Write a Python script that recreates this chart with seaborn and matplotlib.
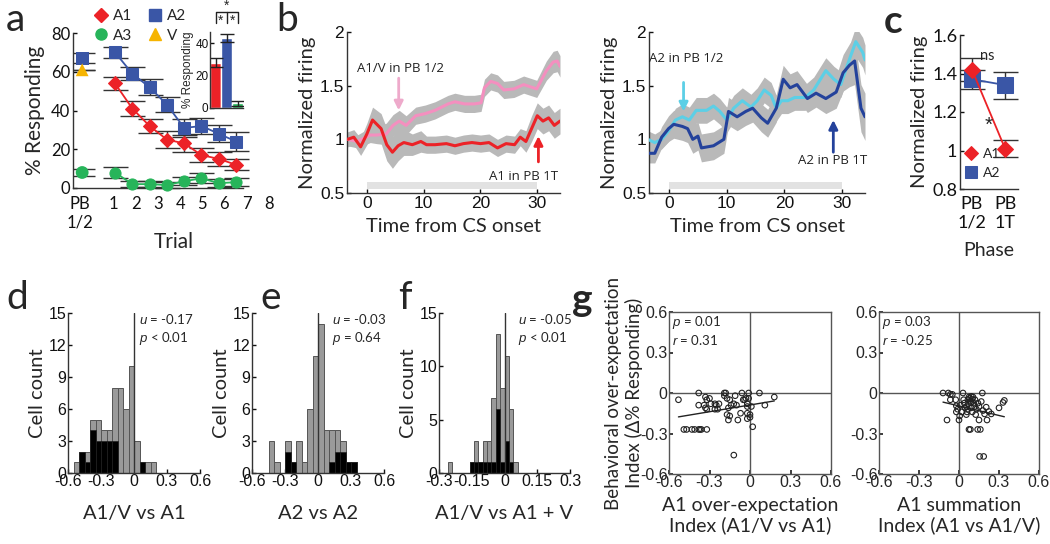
import numpy as np
import pandas as pd
import seaborn as sns
import matplotlib.pyplot as plt
from matplotlib.lines import Line2D

# ---------------- data ----------------
# panel a: % responding per trial
trials = [1, 2, 3, 4, 5, 6, 7, 8]
a1_resp = [54, 41, 32, 25, 23, 17, 15, 12]
a1_err = [3.4, 3.8, 3.4, 4.5, 4.5, 3.5, 3.8, 2.8]
a2_resp = [70, 59, 52, 43, 31, 32, 28, 24]
a2_err = [3.0, 3.4, 4.2, 3.8, 4.5, 4.0, 4.3, 5.0]
a3_resp = [8, 2, 2, 1.5, 3.5, 5, 2.5, 3]
a3_err = [3.0, 1.5, 1.5, 1.5, 2.0, 2.5, 2.0, 2.0]
pb_cues = ['A2', 'V', 'A3']
pb_resp = [67, 61, 8]
pb_err = [2.5, 0.0, 2.0]
trial_labels = ['PB\n1/2', '1', '2', '3', '4', '5', '6', '7', '8']

# panel a inset
inset_cues = ['A1', 'A2', 'A3']
inset_resp = [28, 43, 3]
inset_err = [2.5, 2.5, 1.5]

# panel b: normalized firing traces
pink_t = [-3.4, -1.7, 0.6, 1.7, 3.4, 4.6, 5.7, 6.9, 8.6, 10.3, 12, 14.3, 15.5, 17.2, 18.9,
          20.1, 20.7, 21.8, 23, 24.1, 25.9, 27.6, 29.9, 31.6, 32.8, 33.5, 34]
pink_v = [1.0, 0.98, 1.04, 1.04, 1.05, 1.13, 1.17, 1.13, 1.22, 1.24, 1.27, 1.33, 1.35, 1.33, 1.33,
          1.34, 1.48, 1.54, 1.52, 1.46, 1.47, 1.51, 1.47, 1.64, 1.72, 1.73, 1.68]
pink_sem = [0.06, 0.06, 0.07, 0.08, 0.1, 0.1, 0.1, 0.09, 0.08, 0.08, 0.08, 0.08, 0.08, 0.08, 0.08,
            0.08, 0.08, 0.08, 0.08, 0.08, 0.08, 0.08, 0.08, 0.09, 0.1, 0.1, 0.1]
red_t = [-3.4, -2.3, -1.1, 0, 1, 2.5, 3.5, 4.5, 5.5, 6.5, 8, 9.5, 10.5, 12, 14, 15.5, 17, 18.5,
         20, 21.5, 23, 24.5, 26, 27, 28, 29, 30, 31, 32, 33, 34]
red_v = [1.0, 1.02, 0.93, 1.05, 1.18, 1.1, 0.95, 0.88, 0.94, 0.97, 0.95, 0.98, 0.95, 0.95, 0.96,
         0.94, 0.96, 0.97, 0.96, 0.97, 0.92, 0.96, 0.95, 1.02, 0.98, 1.1, 1.22, 1.17, 1.2, 1.13, 1.17]
red_sem = [0.07, 0.07, 0.08, 0.1, 0.12, 0.14, 0.15, 0.15, 0.14, 0.12, 0.1, 0.1, 0.08, 0.08, 0.08,
           0.08, 0.08, 0.08, 0.08, 0.08, 0.08, 0.08, 0.08, 0.08, 0.1, 0.12, 0.12, 0.12, 0.12, 0.12, 0.12]
cyan_t = [-3.7, -2.5, -1.3, -0.1, 1.1, 2.3, 3.5, 4.7, 6.5, 7.7, 8.8, 10, 11.2, 12.7, 14.2, 15.3,
          16.5, 17.7, 18.6, 19.5, 20.6, 21.8, 23.6, 25.1, 27.2, 28.6, 29.8, 31, 32.4, 33.6, 34]
cyan_v = [1.0, 0.97, 1.0, 1.08, 1.18, 1.21, 1.18, 1.27, 1.27, 1.31, 1.26, 1.18, 1.29, 1.36, 1.30, 1.36,
          1.46, 1.41, 1.29, 1.36, 1.36, 1.39, 1.39, 1.46, 1.64, 1.56, 1.51, 1.7, 1.91, 1.81, 1.74]
cyan_sem = [0.08, 0.08, 0.09, 0.1, 0.11, 0.12, 0.12, 0.12, 0.12, 0.12, 0.12, 0.12, 0.12, 0.12, 0.12, 0.12,
            0.12, 0.12, 0.12, 0.12, 0.12, 0.12, 0.12, 0.12, 0.12, 0.12, 0.12, 0.13, 0.14, 0.14, 0.14]
navy_t = [-3.7, -2.5, -1.3, -0.1, 0.8, 2.3, 3.2, 4.1, 5, 5.6, 7.7, 9.5, 10.3, 11.8, 13.3, 14.5,
          16, 17.1, 18.6, 19.8, 21, 22.2, 24, 25.5, 27.2, 29, 30.2, 31.3, 32.2, 33.3, 34]
navy_v = [0.87, 0.87, 1.02, 1.1, 1.14, 1.12, 1.1, 1.0, 1.03, 0.92, 0.94, 1.0, 1.26, 1.21, 1.26, 1.29,
          1.2, 1.15, 1.29, 1.56, 1.48, 1.51, 1.38, 1.43, 1.38, 1.44, 1.62, 1.69, 1.73, 1.29, 1.21]
navy_sem = [0.09, 0.09, 0.1, 0.12, 0.13, 0.13, 0.13, 0.13, 0.13, 0.13, 0.13, 0.13, 0.13, 0.13, 0.13, 0.13,
            0.13, 0.13, 0.13, 0.13, 0.13, 0.13, 0.13, 0.13, 0.14, 0.15, 0.17, 0.2, 0.22, 0.22, 0.22]
cs_period = [0, 30]

# panel c
phase_labels = ['PB\n1/2', 'PB\n1T']
c_a1 = [1.42, 1.01]
c_a1_err = [0.06, 0.045]
c_a2 = [1.37, 1.34]
c_a2_err = [0.05, 0.07]

# panels d-f: histograms (bin centres, total counts, significant-cell counts)
d_centers = [-0.525, -0.475, -0.425, -0.375, -0.325, -0.275, -0.225, -0.175, -0.125, -0.075,
             -0.025, 0.025, 0.075, 0.125, 0.175]
d_total = [1, 2, 2, 5, 5, 4, 4, 8, 8, 6, 10, 3, 1, 1, 1]
d_black = [0, 2, 1, 4, 3, 3, 3, 3, 0, 0, 0, 0, 1, 0, 0]
e_centers = [-0.425, -0.375, -0.325, -0.275, -0.225, -0.175, -0.125, -0.075, -0.025, 0.025,
             0.075, 0.125, 0.175, 0.225, 0.275, 0.325]
e_total = [3, 1, 0, 3, 1, 3, 1, 6, 11, 14, 4, 4, 4, 3, 1, 1]
e_black = [0, 0, 0, 2, 1, 0, 0, 0, 0, 0, 0, 1, 2, 2, 1, 1]
f_centers = [-0.25, -0.15, -0.13, -0.11, -0.09, -0.07, -0.05, -0.03, -0.01, 0.01, 0.03, 0.05]
f_total = [1, 1, 3, 1, 3, 3, 7, 13, 8, 11, 6, 1]
f_black = [0, 1, 1, 1, 1, 1, 1, 6, 1, 3, 1, 0]

# panel g: scatter
g1_x = [-0.53, -0.49, -0.47, -0.43, -0.41, -0.38, -0.37, -0.36, -0.32, -0.38, -0.38,
        -0.33, -0.32, -0.30, -0.29, -0.33, -0.34, -0.32, -0.26, -0.25, -0.23, -0.24, -0.26,
        -0.19, -0.18, -0.19, -0.17, -0.15, -0.16, -0.17, -0.16, -0.15, -0.14, -0.12, -0.10,
        -0.09, -0.11, -0.07, -0.06, -0.05, -0.04, -0.03, -0.02, -0.02, -0.01, -0.01, -0.02,
        -0.02, 0.0, 0.0, 0.01, 0.02, 0.07, 0.11, 0.18, -0.12]
g1_y = [-0.05, -0.27, -0.27, -0.27, -0.27, -0.27, -0.27, -0.27, -0.27, 0.0, -0.09,
        -0.03, -0.05, -0.04, -0.08, -0.11, -0.09, -0.12, -0.08, -0.09, -0.08, -0.12, -0.12,
        0.0, 0.0, -0.02, -0.04, -0.05, -0.11, -0.16, -0.2, -0.17, -0.09, -0.08, -0.09,
        -0.2, -0.02, -0.15, 0.0, -0.05, -0.05, -0.04, -0.08, -0.1, -0.04, 0.0, -0.15,
        -0.19, -0.18, -0.16, -0.1, -0.25, 0.0, -0.09, -0.03, -0.46]
g2_x = [-0.12, -0.08, -0.065, -0.05, -0.065, -0.09, -0.025, -0.02, -0.01, 0.01, 0.02, -0.02,
        0.0, 0.005, 0.03, 0.035, 0.04, 0.055, 0.06, 0.055, 0.067, 0.075, 0.08, 0.085,
        0.092, 0.1, 0.105, 0.11, 0.117, 0.092, 0.1, 0.13, 0.125, 0.075, 0.085, 0.14,
        0.16, 0.155, 0.185, 0.142, 0.15, 0.167, 0.175, 0.18, 0.192, 0.204, 0.21, 0.224,
        0.242, 0.15, 0.3, 0.33, 0.34, 0.07, 0.09, 0.12, 0.045, 0.065]
g2_y = [0.0, 0.0, -0.01, -0.01, -0.05, -0.2, -0.05, -0.095, -0.12, -0.09, -0.14, -0.14,
        -0.2, -0.17, 0.0, -0.05, -0.075, -0.1, -0.14, -0.16, -0.05, -0.03, -0.04, -0.06,
        -0.025, -0.045, -0.03, -0.075, -0.1, -0.11, -0.14, -0.12, -0.16, -0.27, -0.27, -0.27,
        -0.27, -0.47, -0.47, -0.075, -0.1, -0.063, 0.0, -0.13, -0.155, -0.105, -0.2, -0.137,
        -0.155, -0.2, -0.11, -0.07, -0.055, -0.08, -0.07, -0.05, -0.11, -0.12]

# ---------------- style ----------------
sns.set_theme(style='ticks')
plt.rcParams['font.family'] = ['Lato', 'DejaVu Sans']
plt.rcParams['mathtext.fontset'] = 'custom'
plt.rcParams['mathtext.it'] = 'Liberation Sans:italic'
plt.rcParams['mathtext.rm'] = 'Liberation Sans'
plt.rcParams['axes.edgecolor'] = '#333333'
plt.rcParams['axes.linewidth'] = 1.0

RED = '#ec2227'
BLUE = '#3a56a6'
GREEN = '#27b45a'
YELLOW = '#f6b400'
PINK = '#f48fbf'
CYAN = '#5ccfe6'
NAVY = '#24429b'
BAND = '#b9b9b9'
ARIAL = 'Liberation Sans'

W, H = 1050, 544
fig = plt.figure(figsize=(W / 100, H / 100), dpi=100)


def box(l, t, r, b):
    return [l / W, 1 - b / H, (r - l) / W, (b - t) / H]


def clean(ax, tickfont=ARIAL, size=11):
    sns.despine(ax=ax)
    ax.tick_params(labelsize=size, labelfontfamily=tickfont, direction='in', length=3,
                   width=1, pad=2, colors='#111111')


# ---------------- panel a ----------------
PB_X = -0.9
ax = fig.add_axes(box(73, 33, 275, 188))
for resp, err, col, mk, ms in [(a2_resp, a2_err, BLUE, 's', 9), (a1_resp, a1_err, RED, 'D', 7),
                               (a3_resp, a3_err, GREEN, 'o', 8)]:
    ax.errorbar(trials, resp, yerr=err, fmt='none', ecolor='#333333', elinewidth=1,
                capsize=9, capthick=1, zorder=2, clip_on=False)
    sns.lineplot(x=trials, y=resp, color=col, marker=mk, markersize=ms, markeredgecolor=col,
                 linewidth=1.3, ax=ax, zorder=3, clip_on=False)
ax.errorbar([PB_X] * 3, pb_resp, yerr=pb_err, fmt='none', ecolor='#333333', elinewidth=1,
            capsize=9, capthick=1, zorder=2)
pb_df = pd.DataFrame({'x': [PB_X] * 3, 'y': pb_resp, 'cue': pb_cues})
sns.scatterplot(data=pb_df, x='x', y='y', hue='cue', style='cue',
                palette={'A2': BLUE, 'V': YELLOW, 'A3': GREEN},
                markers={'A2': 's', 'V': '^', 'A3': 'o'}, s=85, linewidth=0, legend=False,
                ax=ax, zorder=4)
ax.set_xlim(-1.43, 10.25)
ax.set_ylim(0, 80)
ax.set_yticks([0, 20, 40, 60, 80])
ax.set_xticks([-1.05, 0.9, 2.2, 3.5, 4.8, 6.05, 7.3, 8.6, 9.9])
ax.set_xticklabels(trial_labels)
clean(ax, tickfont='Lato', size=12)
ax.spines['bottom'].set_bounds(-1.43, 8.4)
ax.tick_params(axis='x', length=0, pad=6)
ax.set_xlabel('Trial', fontsize=15, labelpad=1)
ax.set_ylabel('% Responding', fontsize=15, labelpad=4)

handles = [Line2D([], [], color=RED, marker='D', ls='', ms=7, label='A1'),
           Line2D([], [], color=GREEN, marker='o', ls='', ms=8, label='A3'),
           Line2D([], [], color=BLUE, marker='s', ls='', ms=9, label='A2'),
           Line2D([], [], color=YELLOW, marker='^', ls='', ms=8, label='V')]
fig.legend(handles=handles, ncol=2, loc='upper left', bbox_to_anchor=(84 / W, 1 - 0 / H),
           frameon=False, fontsize=11, handlelength=1.0, handletextpad=0.3, columnspacing=1.0,
           labelspacing=0.35, borderpad=0.1)

# inset
ax = fig.add_axes(box(210, 32, 243, 108))
sns.barplot(x=inset_cues, y=inset_resp, hue=inset_cues, palette=[RED, BLUE, GREEN],
            width=1, legend=False, ax=ax, saturation=1)
ax.errorbar([0, 1, 2], inset_resp, yerr=inset_err, fmt='none', ecolor='#222222',
            elinewidth=1, capsize=5, capthick=1)
ax.set_xlim(-0.5, 2.5)
ax.set_ylim(0, 46.8)
ax.set_yticks([0, 20, 40])
ax.set_xticks([])
clean(ax, size=8.5)
ax.tick_params(axis='y', pad=1)
ax.set_ylabel('% Responding', fontsize=8.5, labelpad=1, family=ARIAL)
ax.plot([0, 0, 2, 2], [52.3, 59, 59, 52.3], color='#222222', lw=1, clip_on=False)
ax.plot([1, 1], [52.3, 59], color='#222222', lw=1, clip_on=False)
for sx, sy in [(0.45, 54), (1.55, 54), (1.0, 63)]:
    ax.text(sx, sy, '*', ha='center', va='center', fontsize=10, family=ARIAL)


# ---------------- panel b ----------------
def trace_panel(rect, traces, arrows):
    ax = fig.add_axes(box(*rect))
    for t, v, sem, col in traces:
        lo = np.array(v) - np.array(sem)
        hi = np.array(v) + np.array(sem)
        ax.fill_between(t, lo, hi, color=BAND, lw=0, zorder=1)
    for t, v, sem, col in traces:
        sns.lineplot(x=t, y=v, color=col, linewidth=2.2, ax=ax, zorder=3)
    ax.fill_between(cs_period, 0.535, 0.6, color='#e2e2e2', lw=0, zorder=0)
    for x, y0, y1, col, label, lx, ly, ha in arrows:
        ax.annotate('', xy=(x, y1), xytext=(x, y0),
                    arrowprops=dict(arrowstyle='-|>', color=col, lw=2, mutation_scale=13,
                                    shrinkA=0, shrinkB=0))
        ax.text(lx, ly, label, ha=ha, va='center', fontsize=9.5, family='Open Sans',
                color='#222222')
    ax.set_xlim(-3.5, 34)
    ax.set_ylim(0.5, 2)
    ax.set_xticks([0, 10, 20, 30])
    ax.set_yticks([0.5, 1, 1.5, 2])
    ax.set_yticklabels(['0.5', '1', '1.5', '2'])
    clean(ax, size=12.5)
    ax.set_xlabel('Time from CS onset', fontsize=14.5, labelpad=5)
    ax.set_ylabel('Normalized firing', fontsize=14.5, labelpad=3)
    return ax


trace_panel((347, 32, 560, 193),
            [(pink_t, pink_v, pink_sem, PINK), (red_t, red_v, red_sem, RED)],
            [(5.6, 1.57, 1.27, '#eeaacb', 'A1/V in PB 1/2', 6.0, 1.66, 'center'),
             (30.2, 0.79, 1.03, RED, 'A1 in PB 1T', 33.6, 0.65, 'right')])
trace_panel((649, 32, 865, 193),
            [(cyan_t, cyan_v, cyan_sem, CYAN), (navy_t, navy_v, navy_sem, NAVY)],
            [(2.5, 1.53, 1.26, CYAN, 'A2 in PB 1/2', 3.0, 1.75, 'center'),
             (28.5, 0.88, 1.18, NAVY, 'A2 in PB 1T', 28.3, 0.8, 'center')])

# ---------------- panel c ----------------
ax = fig.add_axes(box(960, 35, 1018, 189))
phase_pos = [0, 1]
for vals, err, col, mk, ms, lab in [(c_a2, c_a2_err, BLUE, 's', 11, 'A2'),
                                     (c_a1, c_a1_err, RED, 'D', 8, 'A1')]:
    ax.errorbar(phase_pos, vals, yerr=err, fmt='none', ecolor='#333333', elinewidth=1,
                capsize=9, capthick=1, zorder=2)
    sns.lineplot(x=phase_pos, y=vals, color=col, marker=mk, markersize=ms,
                 markeredgecolor=col, linewidth=1.3, ax=ax, zorder=3, label=lab)
ax.set_xlim(-0.36, 1.39)
ax.set_ylim(0.8, 1.6)
ax.set_yticks([0.8, 1.0, 1.2, 1.4, 1.6])
ax.set_yticklabels(['0.8', '1', '1.2', '1.4', '1.6'])
ax.set_xticks(phase_pos)
ax.set_xticklabels(phase_labels)
clean(ax, tickfont='Lato', size=13)
ax.tick_params(axis='x', length=0, pad=5)
ax.text(0.45, 1.49, 'ns', fontsize=10.5, ha='center', va='center')
ax.text(0.5, 1.13, '*', fontsize=15, ha='center', va='center', family=ARIAL)
h, l = ax.get_legend_handles_labels()
ax.legend([h[1], h[0]], [l[1], l[0]], loc='lower left', bbox_to_anchor=(-0.06, 0.0),
          frameon=False, fontsize=10, handlelength=0.7, handletextpad=0.5, markerscale=0.85,
          labelspacing=0.5, borderpad=0.2)
ax.set_xlabel('Phase', fontsize=14, labelpad=8)
ax.set_ylabel('Normalized firing', fontsize=14.5, labelpad=3)


# ---------------- panels d-f ----------------
def hist_panel(rect, centers, total, black, width, lim, xticks, xlabels, yticks, u_txt, p_txt, tx):
    ax = fig.add_axes(box(*rect))
    lo = min(centers) - width / 2
    n_bins = int(round((max(centers) - min(centers)) / width)) + 1
    edges = [lo + i * width for i in range(n_bins + 1)]
    df = pd.DataFrame({'c': centers, 'total': total, 'black': black})
    sns.histplot(data=df, x='c', weights='total', bins=edges, color='#9a9a9a',
                 edgecolor='#555555', linewidth=0.7, alpha=1, ax=ax)
    sns.histplot(data=df, x='c', weights='black', bins=edges, color='black',
                 edgecolor='#222222', linewidth=0.5, alpha=1, ax=ax)
    ax.axvline(0, color='#333333', lw=1)
    ax.set_xlim(-lim, lim)
    ax.set_ylim(0, 15)
    ax.set_xticks(xticks)
    ax.set_xticklabels(xlabels)
    ax.set_yticks(yticks)
    clean(ax, size=11.5)
    ax.tick_params(pad=1)
    ax.set_ylabel('Cell count', fontsize=14.5, labelpad=2)
    ax.text(tx, 14.4, u_txt, fontsize=9.5, va='center', ha='left')
    ax.text(tx, 12.6, p_txt, fontsize=9.5, va='center', ha='left')
    return ax


ticks6 = [-0.6, -0.3, 0, 0.3, 0.6]
labels6 = ['-0.6', '-0.3', '0', '0.3', '0.6']
ax = hist_panel((68, 313, 200, 473), d_centers, d_total, d_black, 0.05, 0.6, ticks6, labels6,
                [0, 3, 6, 9, 12, 15], '$u$ = -0.17', '$p$ < 0.01', 0.045)
ax.set_xlabel('A1/V vs A1', fontsize=14.5, labelpad=11)
ax = hist_panel((252, 313, 384, 473), e_centers, e_total, e_black, 0.05, 0.6, ticks6, labels6,
                [0, 3, 6, 9, 12, 15], '$u$ = -0.03', '$p$ = 0.64', 0.13)
ax.set_xlabel('A2 vs A2', fontsize=14.5, labelpad=11)
ax = hist_panel((439, 313, 570, 473), f_centers, f_total, f_black, 0.02, 0.3,
                [-0.3, -0.15, 0, 0.15, 0.3], ['-0.3', '-0.15', '0', '0.15', '0.3'],
                [0, 5, 10, 15], '$u$ = -0.05', '$p$ < 0.01', 0.06)
ax.set_xlabel('A1/V vs A1 + V', fontsize=14.5, labelpad=11)


# ---------------- panel g ----------------
def scatter_panel(rect, xs, ys, p_txt, r_txt, xlabel):
    ax = fig.add_axes(box(*rect))
    ax.axhline(0, color='#555555', lw=1, zorder=1)
    ax.axvline(0, color='#555555', lw=1, zorder=1)
    sns.scatterplot(x=xs, y=ys, s=16, marker='o', ax=ax, zorder=3)
    ax.collections[-1].set_facecolor('none')
    ax.collections[-1].set_edgecolor('#222222')
    ax.collections[-1].set_linewidth(0.8)
    sns.regplot(x=xs, y=ys, scatter=False, ci=None, color='#222222',
                line_kws={'lw': 1}, ax=ax)
    ax.set_xlim(-0.6, 0.6)
    ax.set_ylim(-0.6, 0.6)
    ax.set_xticks(ticks6)
    ax.set_xticklabels(labels6)
    ax.set_yticks(ticks6)
    ax.set_yticklabels(labels6)
    ax.tick_params(labelsize=11.5, labelfontfamily=ARIAL, direction='in', length=3, pad=1)
    for s in ax.spines.values():
        s.set_color('#555555')
    ax.text(-0.58, 0.52, p_txt, fontsize=9.5, va='center')
    ax.text(-0.58, 0.395, r_txt, fontsize=9.5, va='center')
    ax.set_xlabel(xlabel, fontsize=14, labelpad=5, linespacing=1.15)
    return ax


scatter_panel((669, 312, 831, 474), g1_x, g1_y, '$p$ = 0.01', '$r$ = 0.31',
              'A1 over-expectation\nIndex (A1/V vs A1)')
scatter_panel((879, 312, 1039, 474), g2_x, g2_y, '$p$ = 0.03', '$r$ = -0.25',
              'A1 summation\nIndex (A1 vs A1/V)')
fig.text(624 / W, 1 - 393 / H, 'Behavioral over-expectation\nIndex (\u0394% Responding)',
         rotation=90, ha='center', va='center', fontsize=13.5, linespacing=1.2)

# ---------------- panel letters ----------------
for lab, x, y, wt in [('a', 6, 2, 'normal'), ('b', 276, 2, 'normal'), ('c', 884, 4, 'bold'),
                      ('d', 6, 280, 'normal'), ('e', 260, 280, 'normal'), ('f', 398, 280, 'normal'),
                      ('g', 572, 282, 'bold')]:
    fig.text(x / W, 1 - y / H, lab, fontsize=28, weight=wt, va='top', ha='left')

fig.savefig('out.png', dpi=100)
